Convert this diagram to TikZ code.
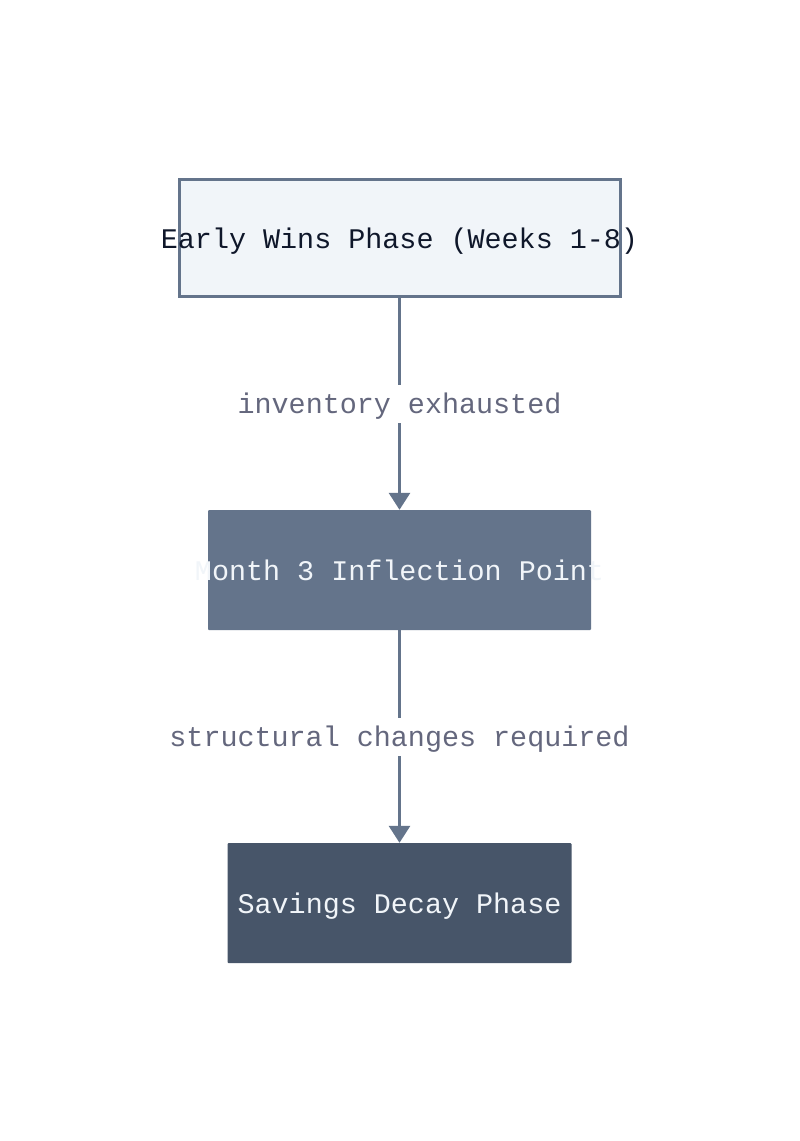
\documentclass[tikz,border=0pt]{standalone}
\usepackage{fontspec}
\setmonofont{Liberation Mono}
\usetikzlibrary{arrows.meta}
\definecolor{slateline}{HTML}{64748B}
\definecolor{slatelight}{HTML}{F1F5F9}
\definecolor{slatedark}{HTML}{475569}
\definecolor{navytext}{HTML}{0F172A}
\definecolor{labeltext}{HTML}{64677D}
\newcommand{\boxtext}[2]{\makebox[0pt][c]{\raisebox{-#1}[0pt][0pt]{#2}}}
\tikzset{
  boxbase/.style={rectangle, inner sep=0pt, font=\ttfamily\fontsize{28.4}{30}\selectfont},
  phaseone/.style={boxbase, draw=slateline, line width=3pt, fill=slatelight, text=navytext, minimum width=441pt, minimum height=117pt},
  phasetwo/.style={boxbase, fill=slateline, text=slatelight, minimum width=383pt, minimum height=120pt, rounded corners=1pt},
  phasethree/.style={boxbase, fill=slatedark, text=slatelight, minimum width=344pt, minimum height=120pt, rounded corners=1pt},
  flow/.style={draw=slateline, line width=3pt, -{Triangle[length=17pt,width=21pt]}},
  flowlabel/.style={fill=white, text=labeltext, inner xsep=0pt, inner ysep=0pt, minimum height=38pt, font=\ttfamily\fontsize{28.4}{30}\selectfont}
}
\begin{document}
\begin{tikzpicture}[x=1pt,y=-1pt]
\useasboundingbox (0,0) rectangle (800,1141);
\fill[white] (0,0) rectangle (800,1141);
\node[phaseone] (early) at (399.5,237.5) {\boxtext{10.5pt}{Early Wins Phase (Weeks 1-8)}};
\node[phasetwo] (month) at (399.5,570) {\boxtext{10pt}{Month 3 Inflection Point}};
\node[phasethree] (decay) at (399.5,903) {\boxtext{10pt}{Savings Decay Phase}};
\draw[flow] (early.south) -- node[flowlabel] (lbla) {\raisebox{-9.5pt}[0pt][0pt]{inventory exhausted}} (month.north);
\draw[flow] (month.south) -- node[flowlabel] (lblb) {\raisebox{-9.5pt}[0pt][0pt]{structural changes required}} (decay.north);
\end{tikzpicture}
\end{document}
